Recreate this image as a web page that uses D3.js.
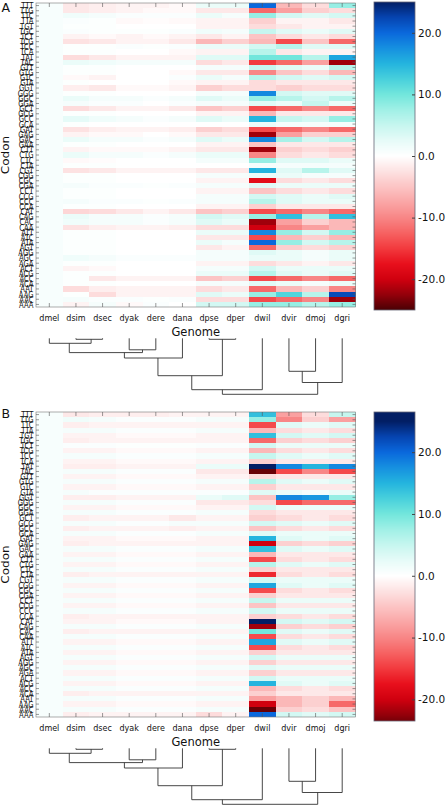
<!DOCTYPE html>
<html><head><meta charset="utf-8">
<script src="https://cdn.jsdelivr.net/npm/d3@7"></script>
<style>body{margin:0;background:#fff}svg{display:block}text{font-family:"DejaVu Sans",sans-serif;fill:#111}</style>
</head><body><svg id="c" width="446" height="806"></svg>
<script>
const codons = ["TTT","TTG","TTC","TTA","TGT","TGC","TCT","TCG","TCC","TCA","TAT","TAC",
"GTT","GTG","GTC","GTA","GGT","GGG","GGC","GGA","GCT","GCG","GCC","GCA","GAT","GAG","GAC","GAA",
"CTT","CTG","CTC","CTA","CGT","CGG","CGC","CGA","CCT","CCG","CCC","CCA","CAT","CAG","CAC","CAA",
"ATT","ATC","ATA","AGT","AGG","AGC","AGA","ACT","ACG","ACC","ACA","AAT","AAG","AAC","AAA"];
const genomes = ["dmel","dsim","dsec","dyak","dere","dana","dpse","dper","dwil","dvir","dmoj","dgri"];
const colorbarTicks = [20,10,0,-10,-20];
const colorbarDomainA = [-25,25];
const colorbarDomainB = [-23.5,26.5];

// panel A values: one row per codon, columns in genome order
const valuesA = [
[0.8,-2,-1.5,-1,-1,-0.5,2,2,20,-6,-3,8],
[0.8,-2,-1.5,-1,-0.5,-0.5,-2,-2,-12,-8,-4,-3],
[0.8,1.5,1,0.5,0.5,0.5,2,1,8,4,3,4],
[0.8,0.5,0.3,-0.5,-0.3,-0.5,-1,-1,-4,-1,-1,-2],
[0.8,0.3,0.3,0,0,0,-1,-1,-3,-2,-1,-1],
[0.8,0.5,0.3,0.3,0.3,0.5,1.5,1,5,3,2,3],
[0.8,-1,-0.5,-1,-0.5,-1,-2,-1,-5,-3,-2,-3],
[0.8,-2.5,-2,-1,-1,-2,-6,-4,-6,-14,-5,-12],
[0.8,0.3,0.3,0.5,0.3,0.5,2,2,4,6,3,3],
[0.8,0.3,0.3,0,0,-0.5,-1,-1,6,-2,-1,-1],
[0.8,-3,-2,-1,-1,-1,3,3,10,10,6,16],
[0.8,2,1.5,1,1,1,-3,-2,-15,-12,-8,-22],
[0.8,0.3,0.3,0,0,0,1,1,5,3,2,6],
[0.8,0.3,0.3,0,0,-0.5,-2,-2,-10,-5,-3,-6],
[0.8,-0.5,-1,0,0,0.5,2,1,6,4,3,4],
[0.8,0.3,0,0,0,-0.5,-1,-1,-3,-2,-2,-2],
[0.8,-1.5,-2,-0.5,-0.5,-1,-4,-3,-3,-4,-3,-3],
[0.8,0.3,0.3,0,0,0,1,1,18,4,3,3],
[0.8,2,1,1,0.5,1,3,2,8,6,4,6],
[0.8,1,0.5,0.5,0,0.5,1,1,3,2,5,2],
[0.8,-3,-2,-1,-1,-2,-5,-4,-14,-12,-10,-12],
[0.8,0.3,0.3,0,0,0,-1,-1,-6,-2,-2,-2],
[0.8,2.5,1.5,1,0.5,1,3,2,15,5,4,8],
[0.8,0.3,0,0,0,0,0,0,2,1,1,1],
[0.8,-2.5,-1.5,-1,-1,-1.5,-4,-3,-14,-12,-10,-12],
[0.8,-1,-0.5,-0.5,0,-0.5,-2,-2,-22,-8,-4,-4],
[0.8,2,1,1,0.5,1,3,2,18,7,4,6],
[0.8,0.3,0.3,0,0,0,-1,-1,-5,-2,-2,-2],
[0.8,-1,-0.5,-0.5,-0.5,-1,-2,-2,-22,-4,-3,-4],
[0.8,2,1,1,0.5,1,2,2,-10,-3,-2,-3],
[0.8,-0.5,-0.3,0,0,0,1,1,8,3,3,2],
[0.8,0.3,0.3,0,0,0,0,0,1,1,1,1],
[0.8,-2.5,-2,-1,-1,-1,-2,-2,15,3,6,3],
[0.8,0.3,0.3,0,0,0,1,1,2,2,1,1],
[0.8,0.3,0.3,0,0,0,-1,-1,-18,-3,-2,-3],
[0.8,1,0.5,0.5,0.3,0.5,1,1,3,2,2,2],
[0.8,0.3,0.3,0,0,0,-1,-1,-5,-3,-2,-3],
[0.8,0.3,0.3,0,0,0,1,1,4,3,2,3],
[0.8,1,0.5,0.5,0.3,0.5,1,1,6,3,2,2],
[0.8,0.3,0.3,0,0,0,-1,-1,-4,-2,-2,-2],
[0.8,-3.5,-3,-2,-1,-2,-5,-4,-14,-12,-10,-12],
[0.8,2,1,1,0.5,1,4,3,8,14,6,14],
[0.8,1.5,1,1,0.5,1,3,2,-22,-8,-4,-6],
[0.8,-2.5,-1.5,-1,-1,-1.5,-3,-3,-20,-10,-8,-6],
[0.8,0.3,0.3,0,0,0,2,2,18,8,4,8],
[0.8,0.3,0.3,0,0,0,-2,-2,-14,-6,-4,-6],
[0.8,0.3,0.3,0,0,0,2,1,20,8,4,6],
[0.8,0.3,0.3,0,0,0,-2,-1,-12,-4,-3,-4],
[0.8,0.3,0.3,0,0,0,1,1,3,2,1,2],
[0.8,1.5,1,0.5,0.5,0.5,1,1,2,2,1,2],
[0.8,0.3,0.3,0,0,0,-1,-1,-3,-2,-1,-2],
[0.8,-1,-0.5,0,0,0,1,1,4,2,2,2],
[0.8,0.3,0.3,0,0,0,2,2,6,3,2,3],
[0.8,0.3,-2,-1,-1,-1,-5,-4,-14,-12,-10,-12],
[0.8,0.3,0.3,0,0,0,1,1,3,2,1,2],
[0.8,-3,-1.5,-1,-1,-1,-3,-2,-12,-6,-4,-10],
[0.8,0.3,-3,-1,-1,-1,3,2,8,12,6,22],
[0.8,1,0.5,0.5,0.3,0.5,-3,-3,-14,-12,-10,-22],
[0.8,-1,1,-0.5,0.5,0,4,4,8,8,6,8]];

// panel B values
const valuesB = [
[0.8,-2,-1.5,-1.5,-1.5,-1,-1,-1,14,-8,-3,5],
[0.8,1.5,1,0.5,0.5,0.5,1,1,8,-10,-4,-8],
[0.8,-1.5,-1,-1,-1,-1,-1,-1,-14,3,2,3],
[0.8,1,1,0.5,0.5,0.5,1,1,-6,-3,-2,-3],
[0.8,-1,-1,-0.5,-0.5,-0.5,-1,-1,14,4,3,4],
[0.8,-1.5,-1,-1,-1,-1,-1,-1,-12,-4,-3,-4],
[0.8,0.5,0.5,0.3,0.3,0.3,0.5,0.5,4,2,2,2],
[0.8,-1,-1,-0.5,-0.5,-0.5,-1,-1,-6,-3,-2,-3],
[0.8,1,1,0.5,0.5,0.5,1,1,5,3,2,3],
[0.8,-1,-1,-0.5,-0.5,-0.5,-1,-1,-4,-2,-2,-2],
[0.8,-1.5,-1.5,-1,-1,-1,2,2,25,18,15,18],
[0.8,1,1,0.5,0.5,0.5,-2,-2,-24,-14,-10,-14],
[0.8,-1,-1,-0.5,-0.5,-0.5,-1,-1,-3,-2,-2,-2],
[0.8,1,1,0.5,0.5,0.5,1,1,6,3,2,3],
[0.8,-1,-1,-0.5,-0.5,-0.5,-1,-1,-4,-2,-2,-2],
[0.8,1,0.5,0.5,0.5,0.5,0.5,0.5,3,2,1,2],
[0.8,-1.5,-1.5,-1,-1,-1,2,3,-5,18,17,8],
[0.8,1,1,0.5,0.5,0.5,-2,-2,-3,-14,-12,-12],
[0.8,-1,-1,-0.5,-0.5,-0.5,-1,-1,4,2,2,2],
[0.8,1,1,0.5,0.5,0.5,1,1,-3,-2,-2,-2],
[0.8,-1.5,-1,-1,-1,-2,-1,-1,-4,-3,-2,-3],
[0.8,1,1,0.5,0.5,1,1,1,4,3,2,3],
[0.8,-1.5,-1,-1,-1,-1.5,-1,-1,-5,-3,-2,-3],
[0.8,1,1,0.5,0.5,0.5,1,1,3,2,2,2],
[0.8,-1,-1,-0.5,-0.5,-0.5,-1,-1,15,3,2,3],
[0.8,-1.5,-1,-1,-1,-1,-1,-1,-20,-4,-3,-4],
[0.8,1,1,0.5,0.5,0.5,1,1,14,3,2,3],
[0.8,-1,-1,-0.5,-0.5,-0.5,-1,-1,-6,-2,-2,-2],
[0.8,1,1,0.5,0.5,0.5,1,1,-14,-3,-2,-3],
[0.8,-1,-1,-0.5,-0.5,-0.5,-1,-1,6,3,2,3],
[0.8,1,1,0.5,0.5,0.5,1,1,-4,-2,-2,-2],
[0.8,-1.5,-1,-1,-1,-1,-1,-1,-16,-3,-2,-3],
[0.8,1,1,0.5,0.5,0.5,1,1,4,2,2,2],
[0.8,-1,-1,-0.5,-0.5,-0.5,-1,-1,16,3,2,3],
[0.8,1,1,0.5,0.5,0.5,1,1,-14,-3,-2,-3],
[0.8,-1,-1,-0.5,-0.5,-0.5,-1,-1,-4,-2,-2,-2],
[0.8,1,1,0.5,0.5,0.5,1,1,5,2,2,2],
[0.8,-1,-1,-0.5,-0.5,-0.5,-1,-1,-5,-2,-2,-2],
[0.8,1,1,0.5,0.5,0.5,1,1,4,2,2,2],
[0.8,-1.5,-1,-1,-1,-1,-1,-1,-4,-3,-2,-3],
[0.8,-1,-1,-0.5,-0.5,-0.5,-1,-1,25,4,3,4],
[0.8,1,1,0.5,0.5,0.5,1,1,-22,-4,-3,-4],
[0.8,-1.5,-1,-1,-1,-1,-1,-1,10,3,2,3],
[0.8,1,1,0.5,0.5,0.5,1,1,-14,-3,-2,-3],
[0.8,-1,-1,-0.5,-0.5,-0.5,-1,-1,16,3,2,3],
[0.8,1,1,0.5,0.5,0.5,1,1,-14,-3,-2,-3],
[0.8,-1,-1,-0.5,-0.5,-0.5,-1,-1,-4,-2,-2,-2],
[0.8,1,1,0.5,0.5,0.5,1,1,4,2,2,2],
[0.8,-1,-1,-0.5,-0.5,-0.5,-1,-1,-4,-2,-2,-2],
[0.8,1,1,0.5,0.5,0.5,1,1,3,2,2,2],
[0.8,-1,-1,-0.5,-0.5,-0.5,-1,-1,-4,-2,-2,-2],
[0.8,1,1,0.5,0.5,0.5,1,1,4,2,2,2],
[0.8,-1,-1,-0.5,-0.5,-0.5,-1,-1,15,3,2,3],
[0.8,1,1,0.5,0.5,0.5,1,1,-6,-3,-2,-3],
[0.8,-1.5,-1,-1,-1,-1,-1,-1,-4,-2,-2,-2],
[0.8,1,1,0.5,0.5,0.5,1,1,-8,-6,-4,-6],
[0.8,-1,-1,-0.5,-0.5,-0.5,-1,-1,-20,-6,-4,-12],
[0.8,1,1,0.5,0.5,0.5,1,1,-24,-4,-3,-5],
[0.8,-1.5,-1,-1,-1,-1,-3,-1,20,4,3,4]];

// dendrogram: node height (distance units) and horizontal position (in leaf units)
const treeNodes = [
 {id:"S", kids:["dsim","dsec"], h:1.0, pos:1.57},
 {id:"M", kids:["dmel","S"], h:5.0, pos:0.75},
 {id:"Y", kids:["dyak","dere"], h:11.5, pos:3.5},
 {id:"A", kids:["M","Y"], h:14.3, pos:2.82},
 {id:"Bn", kids:["A","dana"], h:19.7, pos:4.08},
 {id:"P", kids:["dpse","dper"], h:1.0, pos:6.5},
 {id:"C", kids:["Bn","P"], h:37.4, pos:5.35},
 {id:"D", kids:["C","dwil"], h:51.4, pos:6.5},
 {id:"V", kids:["dvir","dmoj"], h:33.0, pos:9.5},
 {id:"E", kids:["V","dgri"], h:44.2, pos:10.08},
 {id:"R", kids:["D","E"], h:56.0, pos:8.3}
];

const cStops = [-25,-22.5,-20,-17.5,-15,-12.5,-10,-7.5,-5,-2.5,0,2.5,5,7.5,10,12.5,15,17.5,20,22.5,25];
const cColors = ["#4a0004","#94000a","#d0000f","#e8101c","#f23a3e","#f66262","#f88686","#faa6a6","#fcc4c4","#fde2e2","#ffffff",
"#e6fbf8","#c6f6ef","#a0f0e6","#72e6dc","#48d0dc","#24b4de","#1690e0","#0a68dc","#0644b0","#021e64"];
const color = d3.scaleLinear().domain(cStops).range(cColors).clamp(true);

const svg = d3.select("#c");

function panel(cfg){
  const g = svg.append("g");
  const x = d3.scaleBand().domain(genomes).range([cfg.x0,cfg.x1]);
  const y = d3.scaleBand().domain(codons).range([cfg.y0,cfg.y1]);
  const cells = [];
  cfg.values.forEach((row,i)=>row.forEach((v,j)=>cells.push({c:codons[i],g:genomes[j],v})));
  g.append("g").selectAll("rect").data(cells).join("rect")
    .attr("x",d=>x(d.g)).attr("y",d=>y(d.c))
    .attr("width",x.bandwidth()+0.3).attr("height",y.bandwidth()+0.3)
    .attr("fill",d=>color(d.v)).attr("shape-rendering","crispEdges");
  g.append("rect").attr("x",cfg.x0).attr("y",cfg.y0).attr("width",cfg.x1-cfg.x0).attr("height",cfg.y1-cfg.y0)
    .attr("fill","none").attr("stroke","#777").attr("stroke-width",0.6);
  const tk = g.append("g").attr("stroke","#555").attr("stroke-width",0.6);
  codons.forEach(c=>{
    const yy = y(c)+y.bandwidth()/2;
    tk.append("line").attr("x1",cfg.x0).attr("x2",cfg.x0+3).attr("y1",yy).attr("y2",yy);
    tk.append("line").attr("x1",cfg.x1-3).attr("x2",cfg.x1).attr("y1",yy).attr("y2",yy);
  });
  genomes.forEach(s=>{
    const xx = x(s)+x.bandwidth()/2;
    tk.append("line").attr("x1",xx).attr("x2",xx).attr("y1",cfg.y0).attr("y2",cfg.y0+4);
    tk.append("line").attr("x1",xx).attr("x2",xx).attr("y1",cfg.y1-4).attr("y2",cfg.y1);
  });
  const ya = g.append("g").attr("transform",`translate(${cfg.x0},0)`).call(d3.axisLeft(y).tickSize(0).tickPadding(2));
  ya.select(".domain").remove();
  ya.selectAll("text").attr("font-size",9.5).attr("font-family","DejaVu Sans")
    .attr("transform","scale(0.72,1)").attr("x",-2.5/0.72).attr("dy","0.36em");
  const xa = g.append("g").attr("transform",`translate(0,${cfg.y1})`).call(d3.axisBottom(x).tickSize(0).tickPadding(8));
  xa.select(".domain").remove();
  xa.selectAll("text").attr("font-size",8).attr("font-family","DejaVu Sans");
  g.append("text").attr("x",(cfg.x0+cfg.x1)/2).attr("y",cfg.y1+29).attr("text-anchor","middle")
    .attr("font-size",11.5).text("Genome");
  g.append("text").attr("transform",`translate(8.5,${(cfg.y0+cfg.y1)/2}) rotate(-90) scale(1,0.8)`)
    .attr("text-anchor","middle").attr("font-size",12).text("Codon");
  g.append("text").attr("x",1.5).attr("y",cfg.y0+cfg.letterDy).attr("font-size",12.5).text(cfg.letter);
  const cb = d3.scaleLinear().domain(cfg.cbDomain).range([cfg.cbY1,cfg.cbY0]);
  const steps = d3.range(cfg.cbY0, cfg.cbY1, 1);
  g.append("g").selectAll("rect").data(steps).join("rect")
    .attr("x",cfg.cbX).attr("y",d=>d).attr("width",cfg.cbW).attr("height",1.2)
    .attr("fill",d=>color(cb.invert(d+0.5))).attr("shape-rendering","crispEdges");
  g.append("rect").attr("x",cfg.cbX).attr("y",cfg.cbY0).attr("width",cfg.cbW).attr("height",cfg.cbY1-cfg.cbY0)
    .attr("fill","none").attr("stroke","#667").attr("stroke-width",0.8);
  const ca = g.append("g").attr("transform",`translate(${cfg.cbX+cfg.cbW},0)`)
    .call(d3.axisRight(cb).tickValues(colorbarTicks).tickFormat(d3.format(".1f")).tickSize(3).tickPadding(1));
  ca.select(".domain").remove();
  ca.selectAll("line").attr("stroke","#444").attr("x1",-3).attr("x2",0);
  ca.selectAll("text").attr("font-size",10.5).attr("font-family","DejaVu Sans").attr("x",3)
    .text(d=>d3.format(".1f")(d).replace("−","-"));
  const pos = {}, hh = {};
  genomes.forEach((s,i)=>{pos[s]=i;hh[s]=0;});
  treeNodes.forEach(n=>{pos[n.id]=n.pos;hh[n.id]=n.h;});
  const px = i => cfg.x0 + x.bandwidth()*(i+0.5);
  const py = d3.scaleLinear().domain([0,56]).range([cfg.dTop,cfg.dTop+56]);
  const dg = g.append("g").attr("stroke","#333").attr("stroke-width",0.9).attr("fill","none");
  treeNodes.forEach(n=>{
    const [a,b] = n.kids;
    dg.append("path").attr("d",
      `M${px(pos[a])},${py(hh[a])}V${py(n.h)}H${px(pos[b])}V${py(hh[b])}`);
  });
}

panel({values:valuesA,x0:36,x1:355.5,y0:3,y1:307,letter:"A",letterDy:9,
  cbX:374,cbW:41,cbY0:2,cbY1:310,cbDomain:colorbarDomainA,dTop:338.3});
panel({values:valuesB,x0:36,x1:355.5,y0:412,y1:717,letter:"B",letterDy:6,
  cbX:374,cbW:41,cbY0:412,cbY1:721,cbDomain:colorbarDomainB,dTop:748.3});
</script></body></html>
